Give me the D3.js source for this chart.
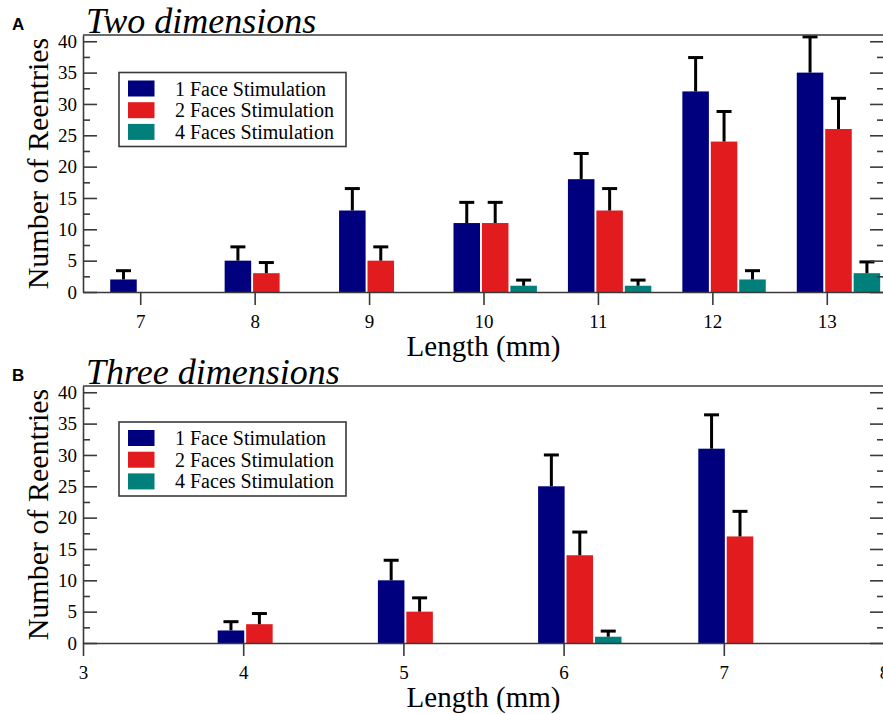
<!DOCTYPE html>
<html>
<head>
<meta charset="utf-8" />
<title>Number of Reentries vs Length</title>
<script src="https://cdn.jsdelivr.net/npm/d3@7"></script>
<style>
body { margin: 0; background: #fff; }
svg text { font-family: "Liberation Serif", "Times New Roman", serif; fill: #000; }
.axis path, .axis line { stroke: #3a3a3a; stroke-width: 1.6; }
</style>
</head>
<body>
<div id="chart"></div>
<script>
// values (mean number of reentries, error bar length)
const seriesNames = ["1 Face Stimulation", "2 Faces Stimulation", "4 Faces Stimulation"];
const seriesColors = ["#00007f", "#e11b1e", "#007f7b"];

// A - two dimensions
const lengths2d = [7, 8, 9, 10, 11, 12, 13];
const face1_2d = [2, 5, 13, 11, 18, 32, 35];
const face1Err2d = [1.4, 2.2, 3.5, 3.3, 4.1, 5.4, 5.7];
const face2_2d = [0, 3, 5, 11, 13, 24, 26];
const face2Err2d = [0, 1.7, 2.2, 3.3, 3.5, 4.8, 4.9];
const face4_2d = [0, 0, 0, 1, 1, 2, 3];
const face4Err2d = [0, 0, 0, 0.9, 0.9, 1.4, 1.8];
const xTicks2d = [7, 8, 9, 10, 11, 12, 13];

// B - three dimensions
const lengths3d = [4, 5, 6, 7];
const face1_3d = [2, 10, 25, 31];
const face1Err3d = [1.4, 3.2, 5.0, 5.4];
const face2_3d = [3, 5, 14, 17];
const face2Err3d = [1.7, 2.2, 3.7, 4.0];
const face4_3d = [0, 0, 1, 0];
const face4Err3d = [0, 0, 0.9, 0];
const xTicks3d = [3, 4, 5, 6, 7, 8];

const yMajor = [0, 5, 10, 15, 20, 25, 30, 35, 40];
const yMinor = [2.5, 7.5, 12.5, 17.5, 22.5, 27.5, 32.5, 37.5];

const width = 883, height = 714;
const svg = d3.select("#chart").append("svg")
	.attr("width", width)
	.attr("height", height);

drawPanel({
	letter: "A", title: "Two dimensions",
	top: 35, bottom: 292, left: 83, right: 884,
	xDomain: [6.5, 13.5], xTicks: xTicks2d, groupStart: -30,
	lengths: lengths2d,
	values: [face1_2d, face2_2d, face4_2d],
	errors: [face1Err2d, face2Err2d, face4Err2d],
	legendTop: 72.5
});

drawPanel({
	letter: "B", title: "Three dimensions",
	top: 386, bottom: 643, left: 83, right: 884,
	xDomain: [3, 8], xTicks: xTicks3d, groupStart: -25.5,
	lengths: lengths3d,
	values: [face1_3d, face2_3d, face4_3d],
	errors: [face1Err3d, face2Err3d, face4Err3d],
	legendTop: 422
});

function drawPanel(p) {
	const x = d3.scaleLinear().domain(p.xDomain).range([p.left, p.right]);
	const y = d3.scaleLinear().domain([0, 41]).range([p.bottom, p.top]);
	// bars sit at fixed pixel offsets round each length
	const band = d3.scaleBand().domain([0, 1, 2])
		.range([p.groupStart, p.groupStart + 83.4])
		.paddingInner(0.067);

	const g = svg.append("g");

	// bars
	p.values.forEach(function(vals, s) {
		const rows = p.lengths.map((L, i) => ({L: L, v: vals[i], e: p.errors[s][i]}))
			.filter(d => d.v > 0);
		g.append("g").selectAll("rect")
			.data(rows)
			.enter()
			.append("rect")
				.attr("x", d => x(d.L) + band(s))
				.attr("y", d => y(d.v))
				.attr("width", band.bandwidth())
				.attr("height", d => y(0) - y(d.v))
				.attr("fill", seriesColors[s]);
	});

	// error bars (upper only)
	p.values.forEach(function(vals, s) {
		const rows = p.lengths.map((L, i) => ({L: L, v: vals[i], e: p.errors[s][i]}))
			.filter(d => d.v > 0 && d.e > 0);
		const eg = g.append("g").attr("stroke", "#000").attr("stroke-width", 3);
		rows.forEach(function(d) {
			const cx = x(d.L) + band(s) + band.bandwidth() / 2;
			eg.append("line")
				.attr("x1", cx).attr("x2", cx)
				.attr("y1", y(d.v)).attr("y2", y(d.v + d.e));
			eg.append("line")
				.attr("x1", cx - 7.5).attr("x2", cx + 7.5)
				.attr("y1", y(d.v + d.e)).attr("y2", y(d.v + d.e));
		});
	});

	// frame: top line
	g.append("line")
		.attr("x1", p.left).attr("x2", p.right)
		.attr("y1", p.top).attr("y2", p.top)
		.attr("stroke", "#3a3a3a").attr("stroke-width", 1.6);

	// left axis, ticks point inward
	const yAxis = g.append("g").attr("class", "axis")
		.attr("transform", "translate(" + p.left + ",0)")
		.call(d3.axisLeft(y).tickValues(yMajor).tickSize(-14).tickSizeOuter(0).tickPadding(6));
	yAxis.selectAll("text").style("font-size", "19px");
	g.append("g").attr("class", "axis")
		.attr("transform", "translate(" + p.left + ",0)")
		.call(d3.axisLeft(y).tickValues(yMinor).tickSize(-7).tickSizeOuter(0).tickFormat(""))
		.select(".domain").remove();

	// right mirror ticks
	g.append("g").attr("class", "axis")
		.attr("transform", "translate(" + p.right + ",0)")
		.call(d3.axisLeft(y).tickValues(yMajor).tickSize(14).tickSizeOuter(0).tickFormat(""));
	g.append("g").attr("class", "axis")
		.attr("transform", "translate(" + p.right + ",0)")
		.call(d3.axisLeft(y).tickValues(yMinor).tickSize(7).tickSizeOuter(0).tickFormat(""))
		.select(".domain").remove();

	// bottom axis, ticks point outward
	const xAxis = g.append("g").attr("class", "axis")
		.attr("transform", "translate(0," + p.bottom + ")")
		.call(d3.axisBottom(x).tickValues(p.xTicks).tickSize(13).tickSizeOuter(0).tickFormat(d3.format("d")));
	xAxis.selectAll("text")
		.style("font-size", "19px")
		.attr("y", 36).attr("dy", null);

	// axis titles
	g.append("text")
		.attr("transform", "translate(48," + ((p.top + p.bottom) / 2) + ") rotate(-90)")
		.attr("text-anchor", "middle")
		.style("font-size", "30px")
		.text("Number of Reentries");
	g.append("text")
		.attr("x", (p.left + p.right) / 2)
		.attr("y", p.bottom + 64)
		.attr("text-anchor", "middle")
		.style("font-size", "29px")
		.text("Length (mm)");

	// panel title and letter
	g.append("text")
		.attr("x", 86).attr("y", p.top - 2)
		.style("font-size", "36px")
		.style("font-style", "italic")
		.text(p.title);
	g.append("text")
		.attr("x", 12).attr("y", p.top - 5)
		.style("font-family", "'Liberation Sans', Arial, sans-serif")
		.style("font-weight", "bold")
		.style("font-size", "17px")
		.text(p.letter);

	// legend
	const lg = g.append("g").attr("transform", "translate(119," + p.legendTop + ")");
	lg.append("rect")
		.attr("width", 227).attr("height", 74)
		.attr("fill", "#fff")
		.attr("stroke", "#3a3a3a").attr("stroke-width", 1.6);
	seriesNames.forEach(function(name, i) {
		lg.append("rect")
			.attr("x", 9).attr("y", 8 + i * 21.7)
			.attr("width", 26.5).attr("height", 16)
			.attr("fill", seriesColors[i]);
		lg.append("text")
			.attr("x", 56).attr("y", 23 + i * 21.7)
			.style("font-size", "20px")
			.text(name);
	});
}
</script>
</body>
</html>
